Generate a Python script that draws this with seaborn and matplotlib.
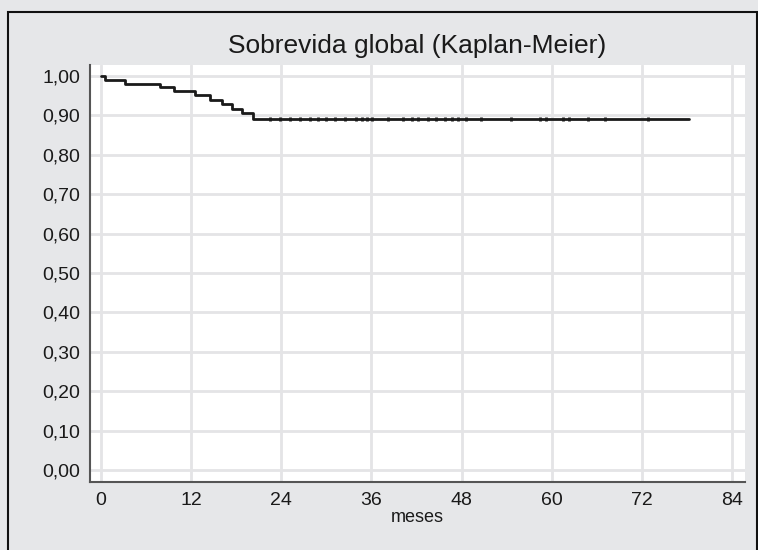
import numpy as np
import pandas as pd
import seaborn as sns
import matplotlib.pyplot as plt
from matplotlib.patches import Rectangle
from matplotlib.ticker import FuncFormatter, MultipleLocator

# Kaplan-Meier step curve (months, survival)
step_times = [0.0, 0.5, 3.2, 7.9, 9.7, 12.5, 14.5, 16.1, 17.4, 18.8, 20.3, 78.3]
step_surv = [1.000, 0.990, 0.980, 0.972, 0.962, 0.952, 0.940, 0.930, 0.917, 0.906, 0.891, 0.891]

# censored observations on the plateau
censor_times = [22.5, 23.8, 25.2, 26.5, 27.8, 28.9, 30.0, 31.2, 32.5, 33.9, 34.7, 35.4,
                36.1, 38.2, 40.2, 41.4, 42.2, 43.5, 44.6, 45.8, 46.7, 47.5, 48.6, 50.6,
                54.6, 58.4, 59.2, 61.5, 62.3, 64.8, 67.1, 72.8]
censor_surv = [0.891] * len(censor_times)

x_ticks = [0, 12, 24, 36, 48, 60, 72, 84]

sns.set_style("white")
plt.rcParams['font.family'] = ['Liberation Sans', 'DejaVu Sans']

bg = '#e6e7e9'
fig = plt.figure(figsize=(7.58, 5.5), dpi=100, facecolor=bg)
ax = fig.add_axes([90 / 758, 1 - 482 / 550, (745 - 90) / 758, (482 - 65) / 550])
ax.set_facecolor('white')

curve = pd.DataFrame({'meses': step_times, 'sobrevida': step_surv})
censored = pd.DataFrame({'meses': censor_times, 'sobrevida': censor_surv})

sns.lineplot(data=curve, x='meses', y='sobrevida', drawstyle='steps-post', estimator=None,
             color='#1a1a1a', linewidth=2.0, ax=ax, zorder=3)
# censor marks are barely visible in the original, just a slight thickening of the line
sns.scatterplot(data=censored, x='meses', y='sobrevida', marker='|', s=6, linewidth=2.0,
                color='#1a1a1a', ax=ax, zorder=4)

ax.set_xlim(-1.46, 85.73)
ax.set_ylim(-0.0305, 1.028)
ax.set_xticks(x_ticks)
ax.yaxis.set_major_locator(MultipleLocator(0.1))
ax.yaxis.set_major_formatter(FuncFormatter(lambda v, p: f"{v:.2f}".replace('.', ',')))

ax.grid(True, color='#e4e4e6', linewidth=2.0, zorder=0)
ax.set_axisbelow(True)
for side in ['top', 'right']:
    ax.spines[side].set_visible(False)
for side in ['left', 'bottom']:
    ax.spines[side].set_color('#555555')
    ax.spines[side].set_linewidth(1.5)
ax.tick_params(axis='both', direction='out', length=5, width=1.2, color='#555555',
               labelsize=14, labelcolor='#1a1a1a', pad=2)

ax.set_xlabel('meses', fontsize=13, color='#1a1a1a', labelpad=0)
ax.set_ylabel('')
ax.set_title('Sobrevida global (Kaplan-Meier)', fontsize=19, color='#1a1a1a', pad=9)

# outer frame
fig.patches.append(Rectangle((8 / 758, -0.05), (757 - 8) / 758, 1.05 - 12 / 550,
                             transform=fig.transFigure, fill=False,
                             edgecolor='#111111', linewidth=1.5))

fig.savefig('out.png', dpi=100, facecolor=bg)
